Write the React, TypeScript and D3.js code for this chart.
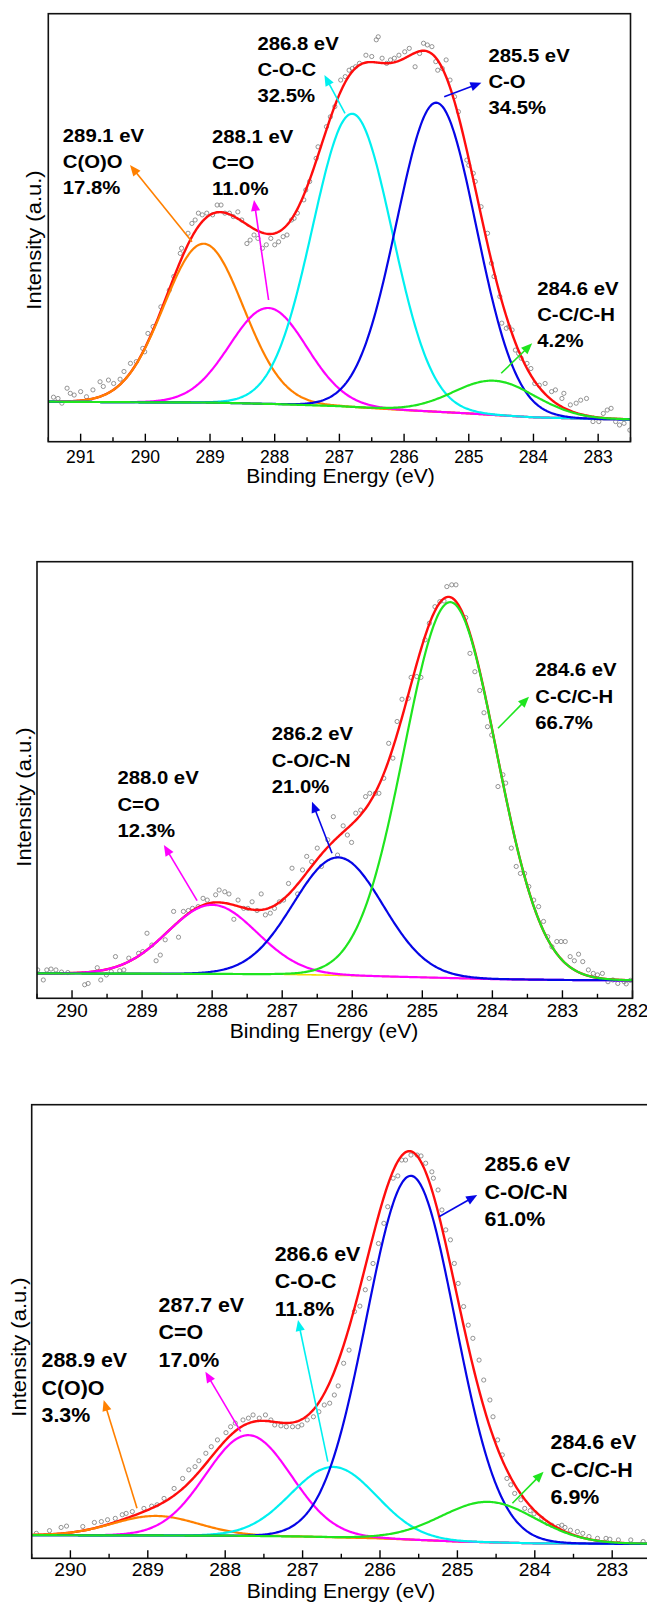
import React from 'react';
import * as d3 from 'd3';

type Pt = [number, number];

// ================= DATA =================
// ---- Panel 1 ----
const p1Domain: Pt = [291.5, 282.5];
const p1Ticks = [291, 290, 289, 288, 287, 286, 285, 284, 283];
const p1Points: Pt[] = [
  [291.42,10.4],[291.35,10.1],[291.29,9.0],[291.21,12.5],[291.16,11.3],[291.10,10.9],[291.00,11.7],[290.91,10.5],[290.81,12.1],[290.70,14.0],[290.65,12.9],[290.57,14.4],[290.49,13.6],[290.39,14.6],[290.33,16.4],[290.23,18.3],[290.14,18.7],[290.04,21.8],[290.01,21.0],[289.96,25.3],[289.88,26.9],[289.76,31.5],[289.63,35.4],[289.56,38.6],[289.46,44.0],[289.44,45.2],[289.34,48.7],[289.28,51.0],[289.23,51.8],[289.18,53.4],[289.12,53.0],[289.05,53.4],[288.96,53.0],[288.89,55.3],[288.83,55.3],[288.77,53.4],[288.70,53.4],[288.64,52.6],[288.57,53.7],[288.51,51.8],[288.43,46.3],[288.38,47.1],[288.32,48.3],[288.26,47.5],[288.19,45.2],[288.13,46.0],[288.06,47.5],[288.00,46.0],[287.94,46.7],[287.87,47.9],[287.81,48.3],[287.74,51.8],[287.70,52.2],[287.65,53.4],[287.55,56.5],[287.52,58.8],[287.46,60.8],[287.36,66.2],[287.33,68.9],[287.20,73.6],[287.14,75.9],[287.07,78.3],[286.98,84.5],[286.91,85.3],[286.85,86.8],[286.80,87.2],[286.75,87.6],[286.69,88.4],[286.59,90.3],[286.50,90.0],[286.43,93.9],[286.40,94.6],[286.34,89.6],[286.27,88.4],[286.21,89.2],[286.15,89.6],[286.08,90.3],[285.99,91.1],[285.92,91.9],[285.83,87.6],[285.76,90.7],[285.70,93.1],[285.64,92.7],[285.57,92.3],[285.51,88.8],[285.48,86.8],[285.41,87.2],[285.35,89.2],[285.29,84.5],[285.22,80.6],[285.16,77.1],[285.03,65.8],[285.00,64.6],[284.93,62.7],[284.90,60.8],[284.81,54.9],[284.71,48.7],[284.65,41.7],[284.61,38.6],[284.52,33.9],[284.49,27.7],[284.42,26.5],[284.38,26.9],[284.33,26.1],[284.28,21.4],[284.23,20.6],[284.19,19.5],[284.10,18.3],[284.04,17.1],[283.98,13.6],[283.91,13.2],[283.82,13.6],[283.72,11.7],[283.66,12.1],[283.56,10.1],[283.53,11.3],[283.43,8.6],[283.34,9.0],[283.27,9.7],[283.18,10.1],[283.08,4.7],[282.99,4.7],[282.92,6.6],[282.86,7.4],[282.80,7.8],[282.73,4.7],[282.67,3.9],[282.60,4.3],[282.51,2.7]
];
const p1Background: Pt[] = [[291.5,9.35],[290,9.2],[289,9.15],[288,8.8],[287,8.3],[286,7.4],[285,6.6],[284,5.7],[283,5.3],[282.5,5.2]];
const p1Centers = [289.1, 288.1, 286.8, 285.5, 284.6];
const p1Heights = [37.1, 22.4, 68.5, 72.2, 8.0];
const p1Fwhm = [1.45, 1.4, 1.45, 1.45, 1.5];
const p1Names = ['C(O)O', 'C=O', 'C-O-C', 'C-O', 'C-C/C-H'];
const p1Percents = ['17.8%', '11.0%', '32.5%', '34.5%', '4.2%'];

// ---- Panel 2 ----
const p2Domain: Pt = [290.5, 282];
const p2Ticks = [290, 289, 288, 287, 286, 285, 284, 283, 282];
const p2Points: Pt[] = [
  [290.49,6.5],[290.41,4.2],[290.36,6.5],[290.30,6.7],[290.23,6.5],[290.15,6.0],[290.06,5.9],[289.82,3.1],[289.77,3.4],[289.64,7.0],[289.59,4.2],[289.51,5.35],[289.44,6.1],[289.38,9.55],[289.32,6.3],[289.26,6.5],[289.19,9.2],[289.05,10.3],[288.99,10.7],[288.93,14.9],[288.86,12.2],[288.80,8.6],[288.74,9.9],[288.67,13.4],[288.55,19.9],[288.48,14.0],[288.41,19.9],[288.34,20.1],[288.28,20.6],[288.20,21.0],[288.13,22.9],[288.07,22.5],[287.95,23.7],[287.90,24.8],[287.82,24.4],[287.76,23.9],[287.69,18.1],[287.63,22.5],[287.55,20.6],[287.49,20.6],[287.43,22.1],[287.36,20.1],[287.30,23.9],[287.24,19.1],[287.17,19.5],[287.11,20.6],[287.04,22.1],[286.98,22.5],[286.91,26.3],[286.86,29.8],[286.78,23.9],[286.71,29.4],[286.65,32.5],[286.58,31.3],[286.50,34.4],[286.44,30.2],[286.35,36.3],[286.27,41.6],[286.21,32.8],[286.13,39.5],[286.07,37.4],[286.01,35.7],[285.95,42.4],[285.88,43.1],[285.81,46.2],[285.75,46.95],[285.67,46.95],[285.62,46.95],[285.55,50.4],[285.48,58.4],[285.42,55.0],[285.36,63.4],[285.29,68.5],[285.20,68.7],[285.16,73.5],[285.08,73.7],[285.02,73.5],[284.96,82.1],[284.90,85.9],[284.82,89.7],[284.75,90.85],[284.69,91.0],[284.65,94.3],[284.58,94.7],[284.52,94.7],[284.38,87.2],[284.32,79.0],[284.25,74.8],[284.18,70.5],[284.12,65.4],[284.07,62.2],[284.01,60.3],[283.92,48.5],[283.85,51.2],[283.81,49.3],[283.73,34.4],[283.66,30.2],[283.60,28.6],[283.54,28.6],[283.48,25.6],[283.41,22.5],[283.34,21.0],[283.27,17.6],[283.21,14.1],[283.15,11.8],[283.08,13.0],[283.02,13.0],[282.96,13.0],[282.89,9.55],[282.83,8.6],[282.77,10.1],[282.71,8.4],[282.63,6.5],[282.56,5.7],[282.50,5.35],[282.43,5.7],[282.35,3.8],[282.28,4.2],[282.21,3.4],[282.12,3.8],[282.09,3.3],[282.03,4.1]
];
const p2Background: Pt[] = [[290.5,5.7],[288,5.6],[287,5.5],[286,5.2],[285,4.8],[284,4.4],[283,4.2],[282,4.1]];
const p2Centers = [288.0, 286.2, 284.6];
const p2Heights = [15.8, 27.0, 86.1];
const p2Fwhm = [1.5, 1.5, 1.55];
const p2Names = ['C=O', 'C-O/C-N', 'C-C/C-H'];
const p2Percents = ['12.3%', '21.0%', '66.7%'];

// ---- Panel 3 ----
const p3Domain: Pt = [290.5, 282.5];
const p3Ticks = [290, 289, 288, 287, 286, 285, 284, 283];
const p3Points: Pt[] = [
  [290.44,5.5],[290.27,6.1],[290.12,6.8],[290.05,7.1],[289.84,7.0],[289.69,7.9],[289.60,8.1],[289.52,8.5],[289.42,8.8],[289.33,9.6],[289.28,9.9],[289.20,10.3],[289.05,11.0],[288.95,11.5],[288.88,11.8],[288.79,13.2],[288.66,15.4],[288.55,17.6],[288.47,19.5],[288.39,20.2],[288.34,21.5],[288.25,23.15],[288.18,24.6],[288.10,26.1],[287.99,27.7],[287.93,29.0],[287.87,29.8],[287.77,30.5],[287.70,30.9],[287.64,31.6],[287.56,30.9],[287.48,31.6],[287.41,30.5],[287.36,29.4],[287.28,29.2],[287.21,29.0],[287.13,29.0],[287.06,29.0],[287.01,29.4],[286.94,30.5],[286.86,31.2],[286.79,32.3],[286.72,33.8],[286.65,34.2],[286.59,36.0],[286.54,38.0],[286.47,43.0],[286.40,45.9],[286.33,54.4],[286.26,55.6],[286.19,59.2],[286.14,61.7],[286.09,65.0],[286.02,69.4],[285.95,73.85],[285.90,77.5],[285.83,83.8],[285.77,84.3],[285.72,87.8],[285.67,87.8],[285.60,88.9],[285.52,88.9],[285.47,88.7],[285.41,87.1],[285.33,85.2],[285.31,83.8],[285.25,81.2],[285.20,76.8],[285.15,72.4],[285.09,70.2],[285.04,65.0],[284.99,60.6],[284.92,55.5],[284.86,51.4],[284.80,48.5],[284.72,43.7],[284.66,39.3],[284.58,34.9],[284.54,31.2],[284.48,26.1],[284.42,22.8],[284.36,17.6],[284.31,16.2],[284.26,14.3],[284.18,12.9],[284.13,11.0],[284.06,10.5],[284.01,9.8],[283.91,8.8],[283.84,7.7],[283.78,7.3],[283.70,7.0],[283.65,7.3],[283.61,6.8],[283.54,6.2],[283.45,5.9],[283.38,5.5],[283.30,4.8],[283.19,4.4],[283.08,4.4],[283.03,4.2],[282.92,4.05],[282.76,4.05],[282.60,3.7]
];
const p3Background: Pt[] = [[290.5,5.1],[288,5.0],[287,4.8],[286,4.4],[285,3.7],[284,3.3],[283,3.2],[282.5,3.2]];
const p3Centers = [288.9, 287.7, 286.6, 285.6, 284.6];
const p3Heights = [4.3, 22.2, 15.5, 80.2, 8.9];
const p3Fwhm = [1.3, 1.3, 1.3, 1.35, 1.45];
const p3Names = ['C(O)O', 'C=O', 'C-O-C', 'C-O/C-N', 'C-C/C-H'];
const p3Percents = ['3.3%', '17.0%', '11.8%', '61.0%', '6.9%'];

// ================= STYLE / LAYOUT =================
const FONT = "'Liberation Sans', Arial, Helvetica, sans-serif";
const C = {
  red: '#ff0d0d', orange: '#ff8000', magenta: '#ff00ff', cyan: '#00f0f0',
  blue: '#0606e6', green: '#1fe51f', bgLine: '#f2e000', pts: '#7a7a7a',
};

type Annot = { tx: number; ty: number; ax1: number; ay1: number; ax2: number; ay2: number };

const panels = [
  {
    domain: p1Domain, ticks: p1Ticks, points: p1Points, bg: p1Background,
    centers: p1Centers, heights: p1Heights, fwhm: p1Fwhm, names: p1Names, pcts: p1Percents,
    colors: [C.orange, C.magenta, C.cyan, C.blue, C.green],
    box: { left: 48.3, top: 13.7, right: 630.5, bottom: 441.7 },
    tickSize: 17.5, tickSx: 1.0, tickBase: 462.5,
    xTitle: { x: 340.5, y: 483 }, yTitle: { x: 41, y: 240 },
    labSize: 19, labSx: 1.07, lineH: 26,
    annots: [
      { tx: 62.8, ty: 135, ax1: 192, ay1: 241.7, ax2: 130, ay2: 165 },
      { tx: 212, ty: 136, ax1: 268.6, ay1: 300, ax2: 254, ay2: 200 },
      { tx: 257.4, ty: 42.7, ax1: 345, ay1: 113.3, ax2: 324.4, ay2: 75 },
      { tx: 488.4, ty: 55, ax1: 444.2, ay1: 96.7, ax2: 481.4, ay2: 82.7 },
      { tx: 537.2, ty: 288.3, ax1: 501.2, ay1: 373.3, ax2: 532.2, ay2: 343.3 },
    ] as Annot[],
  },
  {
    domain: p2Domain, ticks: p2Ticks, points: p2Points, bg: p2Background,
    centers: p2Centers, heights: p2Heights, fwhm: p2Fwhm, names: p2Names, pcts: p2Percents,
    colors: [C.magenta, C.blue, C.green],
    box: { left: 37, top: 561.7, right: 632.5, bottom: 998.3 },
    tickSize: 17.7, tickSx: 1.07, tickBase: 1016.5,
    xTitle: { x: 324, y: 1037.5 }, yTitle: { x: 31, y: 797 },
    labSize: 19, labSx: 1.07, lineH: 26.5,
    annots: [
      { tx: 117.4, ty: 777.3, ax1: 197.1, ay1: 900.7, ax2: 163.9, ay2: 845 },
      { tx: 271.8, ty: 733.3, ax1: 332, ay1: 853.3, ax2: 312, ay2: 801.7 },
      { tx: 535.3, ty: 669.3, ax1: 498, ay1: 728.3, ax2: 529, ay2: 696.7 },
    ] as Annot[],
  },
  {
    domain: p3Domain, ticks: p3Ticks, points: p3Points, bg: p3Background,
    centers: p3Centers, heights: p3Heights, fwhm: p3Fwhm, names: p3Names, pcts: p3Percents,
    colors: [C.orange, C.magenta, C.cyan, C.blue, C.green],
    box: { left: 31.7, top: 1104.7, right: 650.9, bottom: 1558.3 },
    tickSize: 18, tickSx: 1.07, tickBase: 1576.3,
    xTitle: { x: 341, y: 1598 }, yTitle: { x: 25.5, y: 1347 },
    labSize: 20, labSx: 1.07, lineH: 27.6,
    annots: [
      { tx: 41.5, ty: 1360, ax1: 137, ay1: 1508.3, ax2: 103.7, ay2: 1400 },
      { tx: 158.5, ty: 1304.3, ax1: 240.7, ay1: 1431.7, ax2: 205.4, ay2: 1371.7 },
      { tx: 274.7, ty: 1253.3, ax1: 327.8, ay1: 1461.7, ax2: 298, ay2: 1320 },
      { tx: 484.6, ty: 1164, ax1: 439, ay1: 1216.7, ax2: 477.2, ay2: 1195 },
      { tx: 550.6, ty: 1441.7, ax1: 512.4, ay1: 1503.3, ax2: 543.6, ay2: 1471.7 },
    ] as Annot[],
  },
];

function gauss(e: number, c: number, h: number, w: number) {
  return h * Math.exp((-4 * Math.LN2 * (e - c) * (e - c)) / (w * w));
}

function Arrow({ a, color }: { a: Annot; color: string }) {
  const dx = a.ax2 - a.ax1, dy = a.ay2 - a.ay1;
  const len = Math.hypot(dx, dy);
  const ux = dx / len, uy = dy / len;
  const hl = 11, hw = 4.6;
  const bx = a.ax2 - ux * hl, by = a.ay2 - uy * hl;
  const px = -uy, py = ux;
  return (
    <g>
      <line x1={a.ax1} y1={a.ay1} x2={bx + ux * 1} y2={by + uy * 1} stroke={color} strokeWidth={1.6} />
      <polygon
        points={`${a.ax2},${a.ay2} ${bx + px * hw},${by + py * hw} ${bx - px * hw},${by - py * hw}`}
        fill={color}
      />
    </g>
  );
}

function Panel({ p, idx }: { p: typeof panels[number]; idx: number }) {
  const { box } = p;
  const x = d3.scaleLinear().domain(p.domain).range([box.left, box.right]);
  const y = d3.scaleLinear().domain([0, 100]).range([box.bottom, box.top]);
  const bgF = d3.scaleLinear().domain(p.bg.map((d) => d[0])).range(p.bg.map((d) => d[1]));
  const N = 500;
  const xs = d3.range(N + 1).map((i) => p.domain[0] + ((p.domain[1] - p.domain[0]) * i) / N);
  const line = d3.line<Pt>().x((d) => x(d[0])).y((d) => y(d[1])).curve(d3.curveLinear);
  const comps = p.centers.map((c, k) => xs.map((e) => [e, bgF(e) + gauss(e, c, p.heights[k], p.fwhm[k])] as Pt));
  const env = xs.map((e) => [e, bgF(e) + p.centers.reduce((s, c, k) => s + gauss(e, c, p.heights[k], p.fwhm[k]), 0)] as Pt);
  const bgLine = xs.map((e) => [e, bgF(e)] as Pt);
  const clipId = `clip${idx}`;
  const lo = Math.min(p.domain[0], p.domain[1]);
  const hi = Math.max(p.domain[0], p.domain[1]);
  const minor = d3.range(Math.ceil(lo * 2) / 2, hi + 0.001, 0.5).filter((v) => Math.abs(v - Math.round(v)) > 0.1);
  return (
    <g>
      <defs>
        <clipPath id={clipId}>
          <rect x={box.left} y={box.top} width={box.right - box.left} height={box.bottom - box.top} />
        </clipPath>
      </defs>
      <g clipPath={`url(#${clipId})`}>
        {p.points.map((d, i) => (
          <circle key={i} cx={x(d[0])} cy={y(d[1])} r={2.1} fill="none" stroke={C.pts} strokeWidth={0.8} />
        ))}
        <path d={line(bgLine) || ''} fill="none" stroke={C.bgLine} strokeWidth={1.6} />
        <path d={line(env) || ''} fill="none" stroke={C.red} strokeWidth={2.4} />
        {comps.map((cd, k) => (
          <path key={k} d={line(cd) || ''} fill="none" stroke={p.colors[k]} strokeWidth={2.2} />
        ))}
      </g>
      {p.ticks.map((t) => (
        <line key={'M' + t} x1={x(t)} x2={x(t)} y1={box.bottom} y2={box.bottom - 8} stroke="#000" strokeWidth={1.4} />
      ))}
      {minor.map((t) => (
        <line key={'m' + t} x1={x(t)} x2={x(t)} y1={box.bottom} y2={box.bottom - 4.5} stroke="#000" strokeWidth={1.4} />
      ))}
      <rect x={box.left} y={box.top} width={box.right - box.left} height={box.bottom - box.top} fill="none" stroke="#111" strokeWidth={1.6} />
      {p.ticks.map((t) => (
        <text key={'l' + t} transform={`translate(${x(t)},${p.tickBase}) scale(${p.tickSx},1)`} textAnchor="middle"
          fontFamily={FONT} fontSize={p.tickSize} fill="#000">{t}</text>
      ))}
      <text transform={`translate(${p.xTitle.x},${p.xTitle.y}) scale(1.08,1)`} textAnchor="middle" fontFamily={FONT} fontSize={19.5} fill="#000">
        Binding Energy (eV)
      </text>
      <text transform={`translate(${p.yTitle.x},${p.yTitle.y}) rotate(-90) scale(1.1,1)`} textAnchor="middle" fontFamily={FONT} fontSize={20} fill="#000">
        Intensity (a.u.)
      </text>
      {p.annots.map((a, k) => (
        <g key={'a' + k}>
          <Arrow a={a} color={p.colors[k]} />
          {[`${p.centers[k].toFixed(1)} eV`, p.names[k], p.pcts[k]].map((s, j) => (
            <text key={j} transform={`translate(${a.tx},${a.ty + 0.36 * p.labSize + j * p.lineH}) scale(${p.labSx},1)`}
              fontFamily={FONT} fontWeight="bold" fontSize={p.labSize} fill="#000">{s}</text>
          ))}
        </g>
      ))}
    </g>
  );
}

export default function App() {
  return (
    <svg width={647} height={1602} viewBox="0 0 647 1602"
      style={{ position: 'absolute', left: 0, top: 0, background: '#fff', display: 'block' }}>
      <rect x={0} y={0} width={647} height={1602} fill="#fff" />
      {panels.map((p, i) => (
        <Panel key={i} p={p} idx={i} />
      ))}
    </svg>
  );
}
